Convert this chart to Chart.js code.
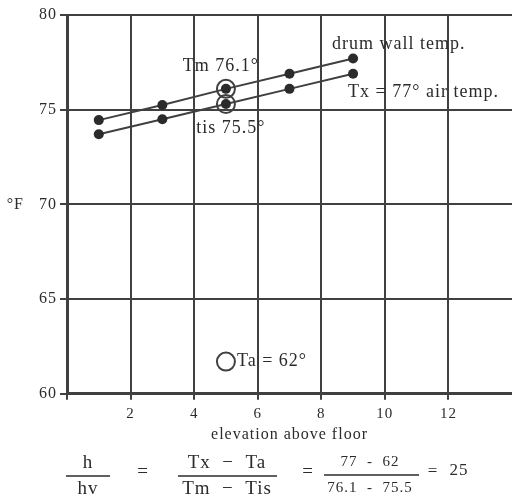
<!DOCTYPE html>
<html><head><meta charset="utf-8">
<script src="https://cdn.jsdelivr.net/npm/chart.js@4.4.1/dist/chart.umd.min.js"></script>
<style>html,body{margin:0;padding:0;background:#fff}</style>
</head><body>
<canvas id="c" width="512" height="501"></canvas>
<script>
// ---- data ----
const elevations = [1, 3, 5, 7, 9];
const drumWallTemp = [74.45, 75.25, 76.1, 76.9, 77.7];
const airTemp = [73.7, 74.5, 75.3, 76.1, 76.9];
const tmPoint = { x: 5, y: 76.1 };
const tisPoint = { x: 5, y: 75.3 };
const taPoint = { x: 5, y: 61.7 };
const xTicks = [2, 4, 6, 8, 10, 12];
const yTicks = [60, 65, 70, 75, 80];

const INK = '#2b2b2b';
const LINE = '#404040';
const SERIF = '"Liberation Serif", "DejaVu Serif", serif';

const toPts = (xs, ys) => xs.map((x, i) => ({ x, y: ys[i] }));

const textPlugin = {
  id: 'texts',
  beforeDraw(chart) {
    const ctx = chart.ctx;
    ctx.fillStyle = '#fff';
    ctx.fillRect(0, 0, chart.width, chart.height);
    try { ctx.letterSpacing = '1px'; } catch (e) {}
  },
  afterDatasetsDraw(chart) {
    const { ctx, scales: { x, y } } = chart;
    const px = v => x.getPixelForValue(v), py = v => y.getPixelForValue(v);
    ctx.save();
    try { ctx.letterSpacing = '1px'; } catch (e) {}
    ctx.fillStyle = INK;
    ctx.textBaseline = 'middle';
    ctx.font = '18px ' + SERIF;
    ctx.textAlign = 'center';
    ctx.fillText('Tm 76.1°', px(tmPoint.x) - 5, py(tmPoint.y) - 23);
    ctx.fillText('tis 75.5°', px(tisPoint.x) + 5, py(tisPoint.y) + 24);
    ctx.textAlign = 'left';
    const last = elevations.length - 1;
    ctx.fillText('drum wall temp.', px(elevations[last]) - 21, py(drumWallTemp[last]) - 14);
    ctx.fillText('Tx = 77° air temp.', px(elevations[last]) - 5, py(airTemp[last]) + 19);
    ctx.fillText('Ta = 62°', px(taPoint.x) + 11, py(taPoint.y));
    ctx.restore();
  },
  afterDraw(chart) {
    const ctx = chart.ctx;
    ctx.save();
    try { ctx.letterSpacing = '1px'; } catch (e) {}
    ctx.fillStyle = INK;
    ctx.strokeStyle = INK;
    ctx.lineWidth = 1.5;
    ctx.textBaseline = 'middle';
    ctx.textAlign = 'center';
    const hline = (a, b, yy) => { ctx.beginPath(); ctx.moveTo(a, yy); ctx.lineTo(b, yy); ctx.stroke(); };
    ctx.font = '19px ' + SERIF;
    ctx.fillText('h', 88, 463);
    hline(66, 110, 476);
    ctx.fillText('hv', 88, 489);
    ctx.fillText('=', 143, 472);
    ctx.fillText('Tx  \u2212  Ta', 227, 463);
    hline(178, 277, 476);
    ctx.fillText('Tm  \u2212  Tis', 227, 489);
    ctx.fillText('=', 308, 472);
    ctx.font = '15px ' + SERIF;
    ctx.fillText('77  -  62', 370, 462);
    hline(324, 419, 475);
    ctx.fillText('76.1  -  75.5', 370, 488);
    ctx.font = '17px ' + SERIF;
    ctx.fillText('=', 433, 472);
    ctx.fillText('25', 459, 471);
    ctx.restore();
  }
};

new Chart(document.getElementById('c'), {
  type: 'scatter',
  data: {
    datasets: [
      { label: 'drum wall temp.', data: toPts(elevations, drumWallTemp), showLine: true,
        borderColor: LINE, borderWidth: 2, pointRadius: 5, pointBackgroundColor: INK,
        pointBorderColor: INK, pointBorderWidth: 0 },
      { label: 'air temp.', data: toPts(elevations, airTemp), showLine: true,
        borderColor: LINE, borderWidth: 2, pointRadius: 5, pointBackgroundColor: INK,
        pointBorderColor: INK, pointBorderWidth: 0 },
      { label: 'Tm / tis', data: [tmPoint, tisPoint], showLine: false,
        pointRadius: 9, pointBorderWidth: 2, pointBorderColor: LINE, pointBackgroundColor: 'rgba(0,0,0,0)' },
      { label: 'Ta', data: [taPoint], showLine: false,
        pointRadius: 9, pointBorderWidth: 2, pointBorderColor: LINE, pointBackgroundColor: 'rgba(0,0,0,0)' }
    ]
  },
  options: {
    responsive: false, animation: false, events: [],
    layout: { autoPadding: false, padding: { top: 15, right: 0, left: 0, bottom: 57 } },
    plugins: { legend: { display: false }, tooltip: { enabled: false } },
    scales: {
      x: {
        type: 'linear', min: 0, max: 14,
        afterBuildTicks: s => { s.ticks = [0, ...xTicks].map(v => ({ value: v })); },
        afterFit: s => { s.paddingLeft = 0; s.paddingRight = 0; },
        ticks: { callback: v => xTicks.includes(v) ? String(v) : '', font: { family: SERIF, size: 15, lineHeight: 1 },
          color: INK, padding: 7, maxRotation: 0, autoSkip: false },
        grid: { color: LINE, lineWidth: 2, tickLength: 6, tickColor: LINE, tickWidth: 2 },
        border: { color: LINE, width: 3 },
        title: { display: true, text: 'elevation above floor', font: { family: SERIF, size: 16 },
          color: INK, padding: { top: -4, bottom: 0 } }
      },
      y: {
        min: 60, max: 80,
        afterBuildTicks: s => { s.ticks = yTicks.map(v => ({ value: v })); },
        afterFit: s => { s.width = 67; },
        ticks: { callback: v => v === 70 ? '°F   70' : String(v), font: { family: SERIF, size: 16 },
          color: INK, padding: 3, autoSkip: false },
        grid: { color: LINE, lineWidth: 2, tickLength: 7, tickColor: LINE, tickWidth: 2 },
        border: { color: LINE, width: 3 }
      }
    }
  },
  plugins: [textPlugin]
});
</script>
</body></html>
